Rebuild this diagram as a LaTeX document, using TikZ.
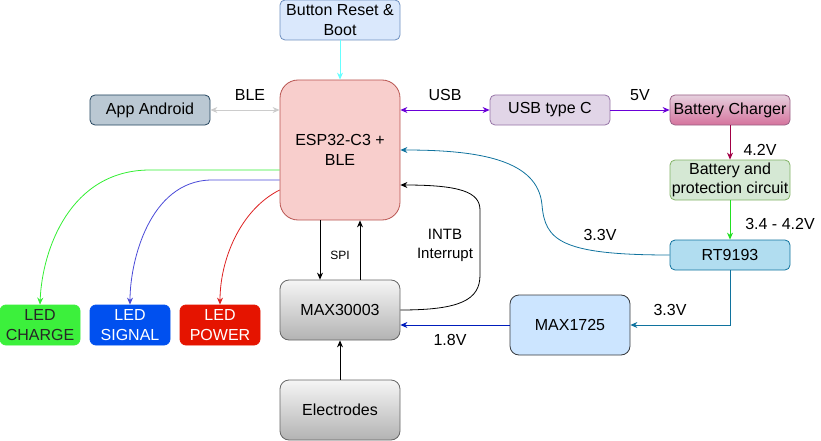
\documentclass[tikz,border=0pt]{standalone}
\usepackage{fontspec}
\setmainfont{Liberation Sans}
\usetikzlibrary{arrows.meta}

\definecolor{espfill}{HTML}{F8CECC}\definecolor{espline}{HTML}{B85450}
\definecolor{btnfill}{HTML}{DAE8FC}\definecolor{btnline}{HTML}{6C8EBF}
\definecolor{appfill}{HTML}{BAC8D3}\definecolor{appline}{HTML}{23445D}
\definecolor{usbfill}{HTML}{E1D5E7}\definecolor{usbline}{HTML}{9673A6}
\definecolor{chgtop}{HTML}{E6D0DE}\definecolor{chgbot}{HTML}{D5739D}\definecolor{chgline}{HTML}{996185}
\definecolor{batfill}{HTML}{D5E8D4}\definecolor{batline}{HTML}{82B366}
\definecolor{rtfill}{HTML}{B1DDF0}\definecolor{rtline}{HTML}{10739E}
\definecolor{pmicfill}{HTML}{CCE5FF}\definecolor{pmicline}{HTML}{36393D}
\definecolor{graytop}{HTML}{F5F5F5}\definecolor{graybot}{HTML}{B3B3B3}\definecolor{grayline}{HTML}{666666}
\definecolor{ledgfill}{HTML}{3CF03C}\definecolor{ledgline}{HTML}{2DB82D}
\definecolor{ledbfill}{HTML}{0050EF}\definecolor{ledbline}{HTML}{001DBC}
\definecolor{ledrfill}{HTML}{E51400}\definecolor{ledrline}{HTML}{B20000}
\definecolor{btnarrow}{HTML}{66FFFF}
\definecolor{blearrow}{HTML}{CCCCCC}
\definecolor{usbarrow}{HTML}{6A00D8}
\definecolor{chgarrow}{HTML}{A20045}
\definecolor{batarrow}{HTML}{22E022}
\definecolor{pmicarrow}{HTML}{001DBC}
\definecolor{ledgarrow}{HTML}{33EE33}
\definecolor{ledbarrow}{HTML}{4A4AD8}
\definecolor{ledrarrow}{HTML}{DD2222}

\tikzset{
  block/.style={draw,line width=0.8pt,rounded corners=5pt,minimum width=120pt,
    minimum height=30pt,inner sep=1pt,align=center,
    font=\fontsize{16}{19.5}\selectfont},
  ledbox/.style={block,minimum width=80pt,minimum height=40pt,rounded corners=6pt},
  lbl/.style={font=\fontsize{16}{19.5}\selectfont,inner sep=0pt,align=center},
  link/.style={line width=0.8pt,>={Stealth[length=7pt,width=6pt]}}
}

\begin{document}
\begin{tikzpicture}[x=1pt,y=-1pt]
  \useasboundingbox (0,0) rectangle (821,441);

  % blocks
  \node[block,fill=btnfill,draw=btnline,minimum height=40pt] (btn) at (340,20) {Button Reset \&\\Boot};
  \node[block,fill=espfill,draw=espline,minimum height=140pt,rounded corners=18pt] (esp) at (340,150) {ESP32-C3 +\\BLE};
  \node[block,fill=appfill,draw=appline] (app) at (150,110) {App Android};
  \node[block,fill=usbfill,draw=usbline] (usbc) at (550,110) {USB type C};
  \node[block,top color=chgtop,bottom color=chgbot,draw=chgline] (chg) at (730,110) {Battery Charger};
  \node[block,fill=batfill,draw=batline,minimum height=40pt] (bat) at (730,180) {Battery and\\protection circuit};
  \node[block,fill=rtfill,draw=rtline] (rt) at (730,255) {RT9193};
  \node[block,fill=pmicfill,draw=pmicline,minimum height=60pt,rounded corners=9pt] (pmic) at (570,325) {MAX1725};
  \node[block,top color=graytop,bottom color=graybot,draw=grayline,minimum height=60pt,rounded corners=9pt] (afe) at (340,310) {MAX30003};
  \node[block,top color=graytop,bottom color=graybot,draw=grayline,minimum height=60pt,rounded corners=9pt] (elec) at (340,410) {Electrodes};
  \node[ledbox,fill=ledgfill,draw=ledgfill,text=black!85] (ledc) at (40,325) {LED\\CHARGE};
  \node[ledbox,fill=ledbfill,draw=ledbfill,text=white] (leds) at (130,325) {LED\\SIGNAL};
  \node[ledbox,fill=ledrfill,draw=ledrfill,text=white] (ledp) at (220,325) {LED\\POWER};

  % links
  \draw[link,->,btnarrow] (btn) -- (esp);
  \draw[link,<->,blearrow] (app.east) -- (app.east -| esp.west);
  \draw[link,<->,usbarrow] (usbc.west -| esp.east) -- (usbc.west);
  \draw[link,->,usbarrow] (usbc) -- (chg);
  \draw[link,->,chgarrow] (chg) -- (bat);
  \draw[link,->,batarrow] (bat) -- (rt);
  \draw[link,->,rtline] (rt.west) .. controls (560,255) and (545,240) .. (542,205)
    .. controls (538,160) and (480,150) .. (esp.east);
  \draw[link,->,rtline] (rt.south) |- (pmic.east);
  \draw[link,->,pmicarrow] (pmic.west) -- (pmic.west -| afe.east);
  \draw[link,->] (afe.east) .. controls (460,310) and (480,300) .. (480,275) -- (480,210)
    .. controls (480,192) and (460,185) .. ([yshift=-35pt]esp.east);
  \draw[link,->] ([xshift=-20pt]esp.south) -- ([xshift=-20pt]afe.north);
  \draw[link,->] ([xshift=20pt]afe.north) -- ([xshift=20pt]esp.south);
  \draw[link,->] (elec) -- (afe);
  \draw[link,->,ledgarrow] ([yshift=-20pt]esp.west) -- (150,170) .. controls (70,170) and (42,250) .. (ledc.north);
  \draw[link,->,ledbarrow] ([yshift=-30pt]esp.west) -- (210,180) .. controls (150,182) and (130,260) .. (leds.north);
  \draw[link,->,ledrarrow] ([yshift=-40pt]esp.west) .. controls (240,210) and (220,260) .. (ledp.north);

  % labels
  \node[lbl] (tble) at (250,95) {BLE};
  \node[lbl] (tusb) at (445,95) {USB};
  \node[lbl] (tfive) at (640,95) {5V};
  \node[lbl] (tchg) at (760,150) {4.2V};
  \node[lbl] (tbat) at (780,224) {3.4 - 4.2V};
  \node[lbl] (trtesp) at (600,235) {3.3V};
  \node[lbl] (trtpmic) at (670,310) {3.3V};
  \node[lbl] (tpmic) at (450,340) {1.8V};
  \node[lbl,font=\fontsize{12}{14}\selectfont] (tspi) at (340,255) {SPI};
  \node[lbl,font=\fontsize{15}{19}\selectfont] (tintb) at (445,245) {INTB\\Interrupt};
\end{tikzpicture}
\end{document}
